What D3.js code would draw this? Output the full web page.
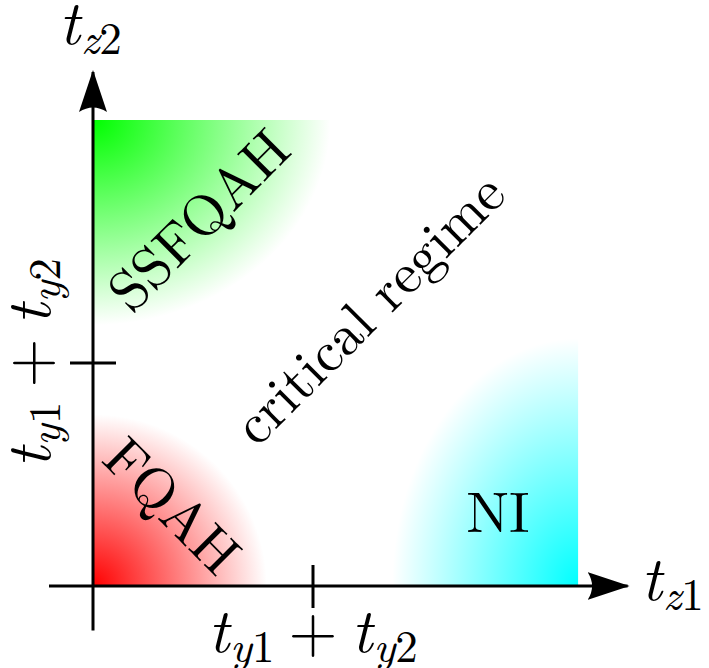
<!DOCTYPE html>
<html>
<head>
<meta charset="utf-8">
<script src="https://cdn.jsdelivr.net/npm/d3@7"></script>
<style>
  body { margin: 0; background: #fff; }
</style>
</head>
<body>
<div class="container"></div>
<script>
// phase regions: corner in units of (t_y1 + t_y2), extent of the shaded quarter-ellipse
const regionNames = ["FQAH", "SSFQAH", "NI"];
const regionColors = ["#ff0000", "#00ff00", "#00ffff"];
const regionCornerX = [0, 0, 2.205];
const regionCornerY = [0, 2.09, 0];
const regionRadiusX = [0.79, 1.08, 0.845];
const regionRadiusY = [0.77, 0.92, 1.11];

// axis ticks (both at t_y1 + t_y2 = 1)
const xTicks = [1];
const yTicks = [1];
const xRange = [-0.2, 2.43];
const yRange = [-0.2, 2.305];

const serif = '"Latin Modern Roman", "Liberation Serif", serif';

const drawDiagram = () => {
    const w = 709, h = 668;

    const xScale = d3.scaleLinear().domain([0, 1]).range([93, 313]);
    const yScale = d3.scaleLinear().domain([0, 1]).range([586, 363]);

    const svg = d3.select("div.container")
        .append("svg")
        .attr("width", w)
        .attr("height", h);

    const defs = svg.append("defs");

    const regions = regionNames.map((name, i) => {
        const cx = regionCornerX[i], cy = regionCornerY[i];
        // shade grows toward the inside of the plot
        const dx = cx > 0 ? -regionRadiusX[i] : regionRadiusX[i];
        const dy = cy > 0 ? -regionRadiusY[i] : regionRadiusY[i];
        return { name, color: regionColors[i], cx, cy, dx, dy };
    });

    regions.forEach((r, i) => {
        const px0 = xScale(r.cx), py0 = yScale(r.cy);
        const px1 = xScale(r.cx + r.dx), py1 = yScale(r.cy + r.dy);
        const g = defs.append("radialGradient")
            .attr("id", "grad" + i)
            .attr("gradientUnits", "userSpaceOnUse")
            .attr("cx", 0).attr("cy", 0).attr("r", 1)
            .attr("gradientTransform",
                `translate(${px0},${py0}) scale(${Math.abs(px1 - px0)},${Math.abs(py1 - py0)})`);
        g.append("stop").attr("offset", 0).attr("stop-color", r.color);
        g.append("stop").attr("offset", 1).attr("stop-color", "#fff");
    });

    svg.selectAll("path.region")
        .data(regions)
        .enter()
        .append("path")
        .attr("class", "region")
        .attr("fill", (d, i) => `url(#grad${i})`)
        .attr("d", d => {
            const x0 = xScale(d.cx), y0 = yScale(d.cy);
            const x1 = xScale(d.cx + d.dx), y1 = yScale(d.cy + d.dy);
            const rx = Math.abs(x1 - x0), ry = Math.abs(y1 - y0);
            const sweep = (d.dx > 0) === (d.dy > 0) ? 0 : 1;
            return `M${x0},${y0} L${x1},${y0} A${rx},${ry} 0 0 ${sweep} ${x0},${y1} Z`;
        });

    // arrow heads
    defs.append("marker")
        .attr("id", "arrow")
        .attr("viewBox", "0 0 42 30")
        .attr("refX", 40).attr("refY", 15)
        .attr("markerWidth", 42).attr("markerHeight", 30)
        .attr("markerUnits", "userSpaceOnUse")
        .attr("orient", "auto")
        .append("path")
        .attr("d", "M0,1 L42,15 L0,29 Q9,15 0,1 Z")
        .attr("fill", "#000");

    // axes
    svg.append("line")
        .attr("x1", xScale(xRange[0])).attr("x2", xScale(xRange[1]))
        .attr("y1", yScale(0)).attr("y2", yScale(0))
        .attr("stroke", "#000").attr("stroke-width", 3)
        .attr("marker-end", "url(#arrow)");

    svg.append("line")
        .attr("x1", xScale(0)).attr("x2", xScale(0))
        .attr("y1", yScale(yRange[0])).attr("y2", yScale(yRange[1]))
        .attr("stroke", "#000").attr("stroke-width", 3)
        .attr("marker-end", "url(#arrow)");

    svg.selectAll("line.xtick")
        .data(xTicks)
        .enter()
        .append("line")
        .attr("class", "xtick")
        .attr("x1", d => xScale(d)).attr("x2", d => xScale(d))
        .attr("y1", yScale(0) - 21).attr("y2", yScale(0) + 22)
        .attr("stroke", "#000").attr("stroke-width", 3);

    svg.selectAll("line.ytick")
        .data(yTicks)
        .enter()
        .append("line")
        .attr("class", "ytick")
        .attr("x1", xScale(0) - 23).attr("x2", xScale(0) + 23)
        .attr("y1", d => yScale(d)).attr("y2", d => yScale(d))
        .attr("stroke", "#000").attr("stroke-width", 3);

    // math label helper: parts [text, italic, sub, dx]
    const mathLabel = (sel, parts) => {
        sel.style("font-family", serif);
        parts.forEach(([txt, it, sub, dx]) => {
            sel.append("tspan")
                .style("font-family", serif)
                .style("font-style", it ? "italic" : "normal")
                .style("font-size", (sub > 0 ? 45 : 63) + "px")
                .attr("dy", sub === 1 ? 10 : sub === -1 ? -10 : null)
                .attr("dx", dx || null)
                .text(txt);
        });
    };
    // sub: 1 drop into subscript, 2 stay in subscript, -1 back to baseline
    const tsum = [["t", 1, 0], ["y", 1, 1, 1], ["1", 0, 2], ["+", 0, -1, 14], ["t", 1, 0, 14], ["y", 1, 1, 1], ["2", 0, 2]];

    mathLabel(svg.append("text").attr("x", 59).attr("y", 44), [["t", 1, 0], ["z", 1, 1, 1], ["2", 0, 2]]);
    mathLabel(svg.append("text").attr("x", 641).attr("y", 600), [["t", 1, 0], ["z", 1, 1, 1], ["1", 0, 2]]);
    mathLabel(svg.append("text").attr("x", xScale(xTicks[0])).attr("y", 652).attr("text-anchor", "middle"), tsum);
    mathLabel(svg.append("text")
        .attr("transform", `translate(50,${yScale(yTicks[0])}) rotate(-90)`)
        .attr("text-anchor", "middle"), tsum);

    // region labels
    const labelPos = [[175, 503, 45], [196, 217, -45], [498, 508, 0]];
    regions.forEach((r, i) => {
        const [lx, ly, rot] = labelPos[i];
        svg.append("text")
            .attr("transform", `translate(${lx},${ly}) rotate(${rot})`)
            .attr("text-anchor", "middle")
            .attr("dominant-baseline", "central")
            .style("font-family", serif)
            .style("font-size", "57px")
            .text(r.name);
    });

    svg.append("text")
        .attr("transform", "translate(366,306) rotate(-45)")
        .attr("text-anchor", "middle")
        .attr("dominant-baseline", "central")
        .style("font-family", serif)
        .style("font-size", "57px")
        .text("critical regime");
};

drawDiagram();
</script>
</body>
</html>
